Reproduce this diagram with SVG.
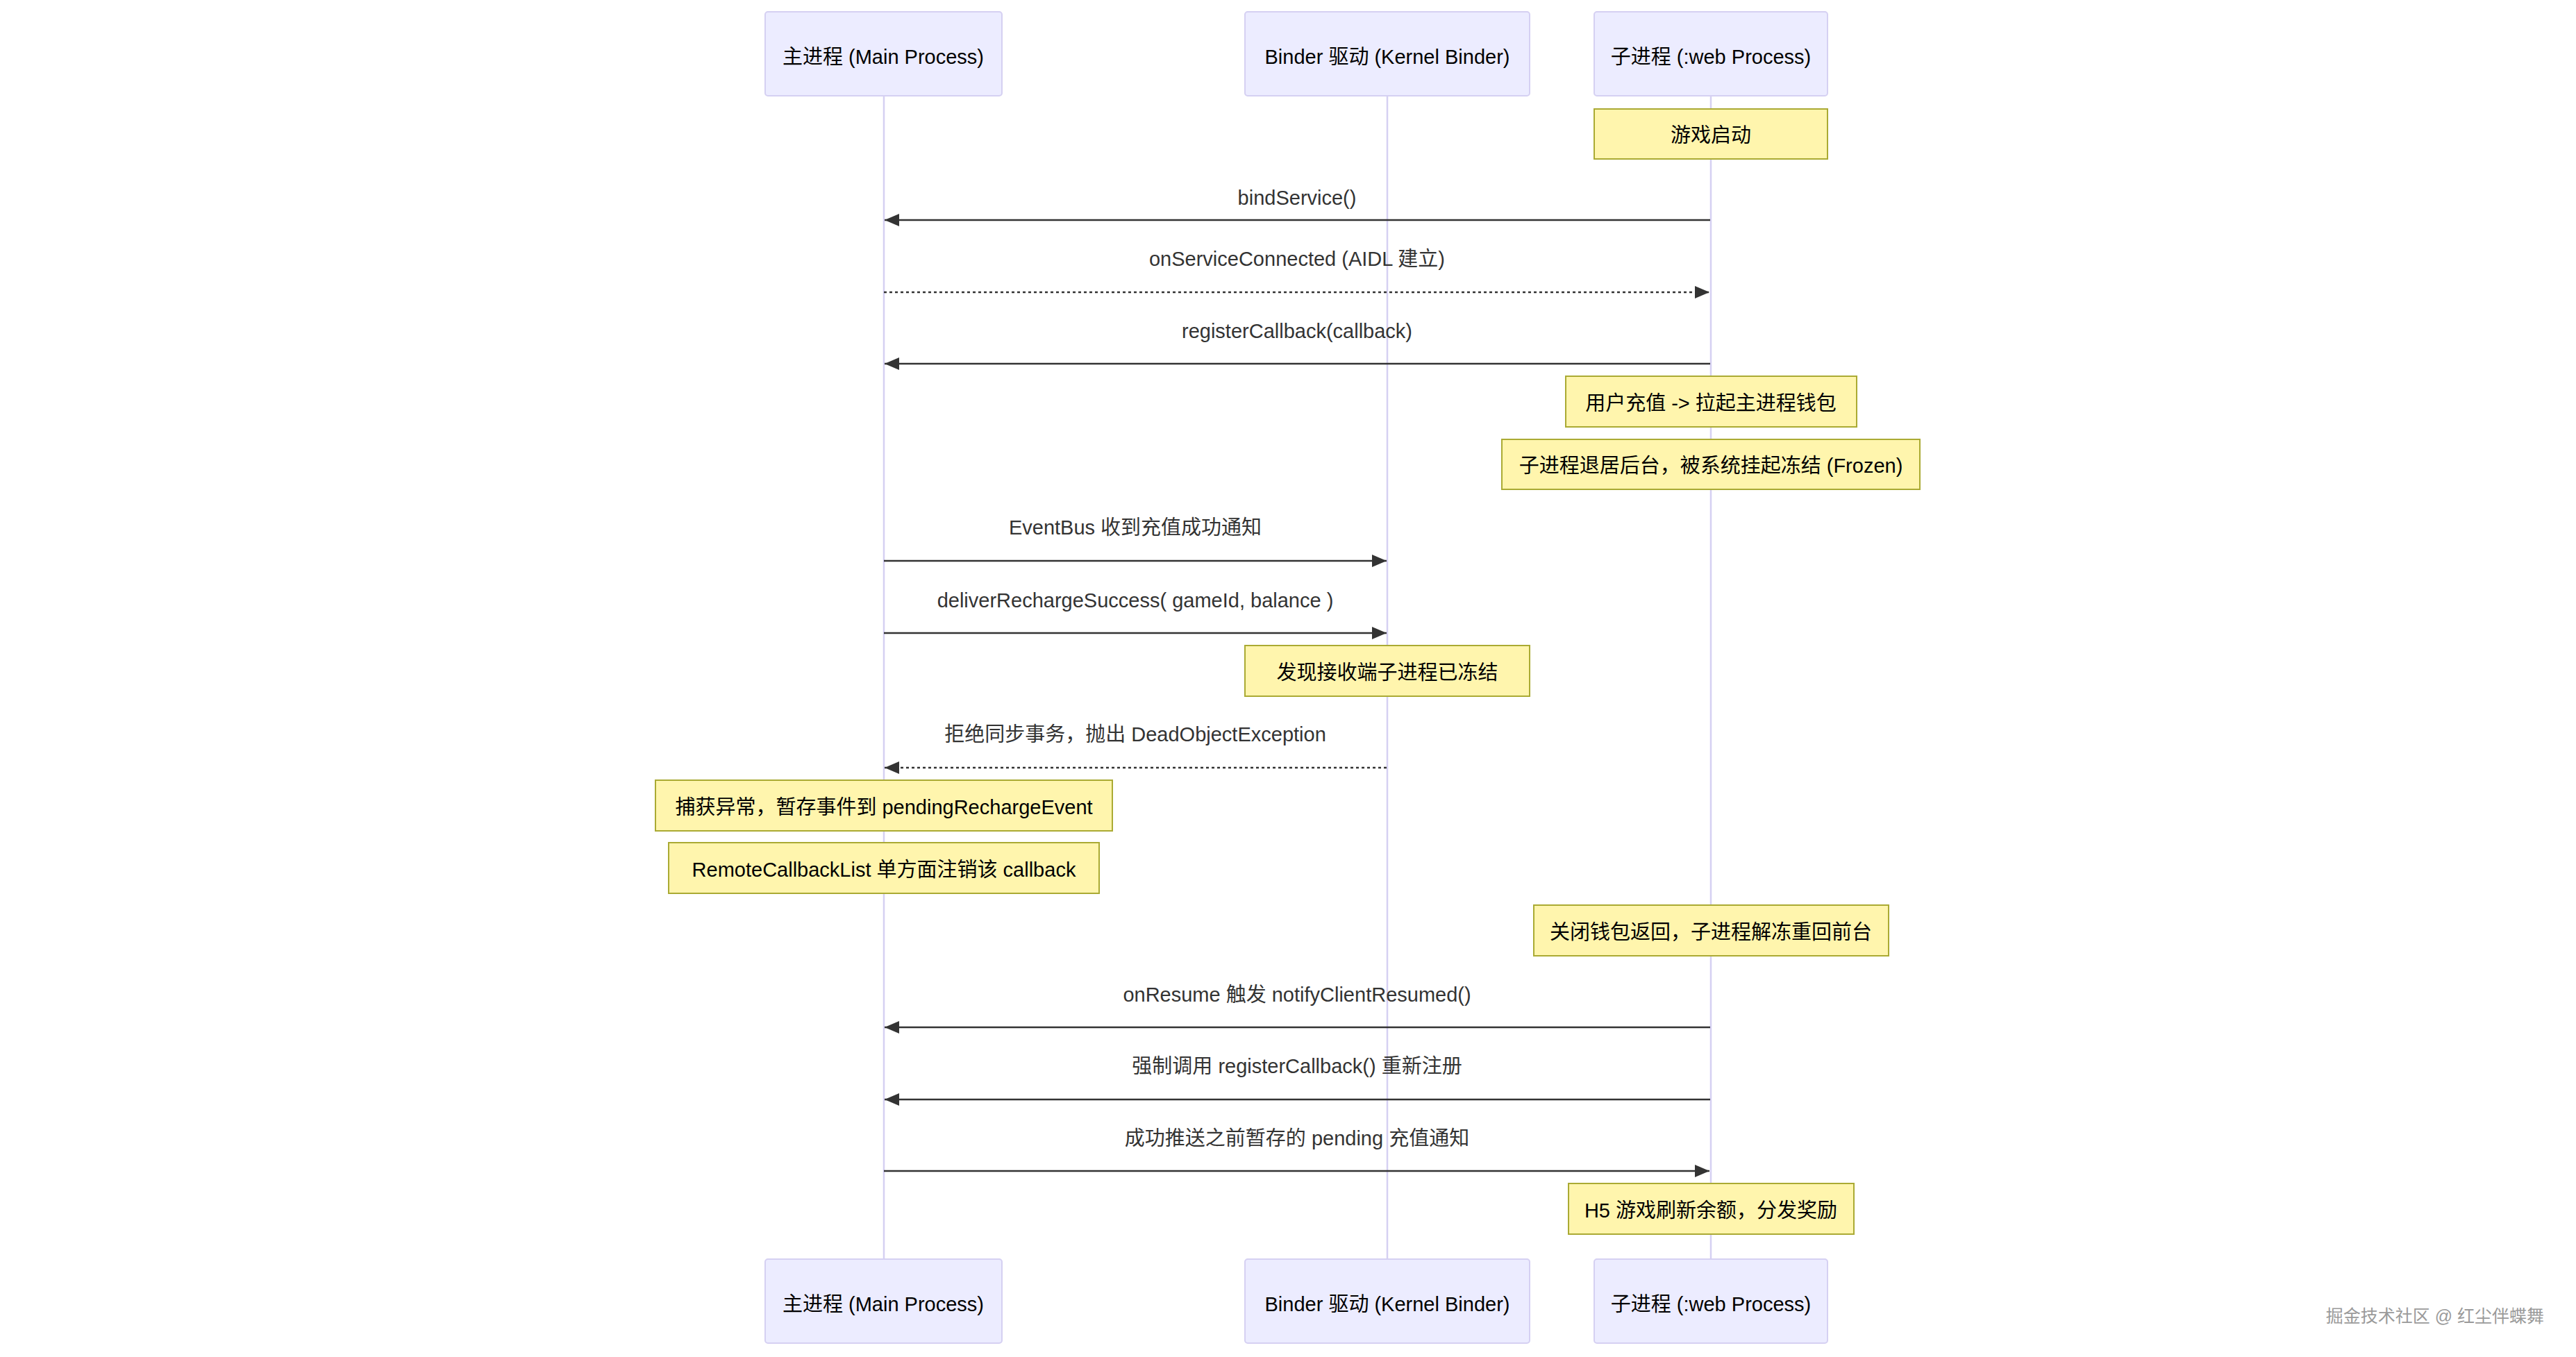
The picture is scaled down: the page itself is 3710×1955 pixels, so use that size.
<svg xmlns="http://www.w3.org/2000/svg" width="3710" height="1955" viewBox="0 0 3710 1955">
<style>
text{font-family:"Liberation Sans","Noto Sans CJK SC",sans-serif;font-size:29px;text-anchor:middle}
.actor rect{fill:#ECECFF;stroke:#D5D0F2;stroke-width:2}
.actor text{fill:#000}
.life{stroke:#D5D0F2;stroke-width:2.5}
.note rect{fill:#FFF5AD;stroke:#AAAA33;stroke-width:2}
.note text{fill:#000}
.msg{stroke:#333;stroke-width:2.5;fill:none}
.dot{stroke-dasharray:4 4}
.mtxt{fill:#333}
.wm{font-size:25px;fill:#9a9a9a;text-anchor:end}
</style>
<defs>
<marker id="ah" markerUnits="userSpaceOnUse" markerWidth="22" markerHeight="18" refX="21" refY="9" orient="auto">
<path d="M0,0 L21,9 L0,18 z" fill="#333"/>
</marker>
</defs>
<rect width="3710" height="1955" fill="#fff"/>
<g id="lifelines">
<line class="life" x1="1273" y1="138" x2="1273" y2="1814"/>
<line class="life" x1="1998" y1="138" x2="1998" y2="1814"/>
<line class="life" x1="2464" y1="138" x2="2464" y2="1814"/>
</g>
<g id="actor-main-top" class="actor"><rect x="1102" y="17" width="341" height="121" rx="4"/><text x="1272" y="92">主进程 (Main Process)</text></g>
<g id="actor-binder-top" class="actor"><rect x="1793" y="17" width="410" height="121" rx="4"/><text x="1998" y="92">Binder 驱动 (Kernel Binder)</text></g>
<g id="actor-web-top" class="actor"><rect x="2296" y="17" width="336" height="121" rx="4"/><text x="2464" y="92">子进程 (:web Process)</text></g>
<g id="actor-main-bottom" class="actor"><rect x="1102" y="1814" width="341" height="121" rx="4"/><text x="1272" y="1889">主进程 (Main Process)</text></g>
<g id="actor-binder-bottom" class="actor"><rect x="1793" y="1814" width="410" height="121" rx="4"/><text x="1998" y="1889">Binder 驱动 (Kernel Binder)</text></g>
<g id="actor-web-bottom" class="actor"><rect x="2296" y="1814" width="336" height="121" rx="4"/><text x="2464" y="1889">子进程 (:web Process)</text></g>
<g id="note1" class="note"><rect x="2296" y="157" width="336" height="72"/><text x="2464" y="205">游戏启动</text></g>
<g id="note2" class="note"><rect x="2255" y="542" width="419" height="73"/><text x="2464" y="591">用户充值 -&gt; 拉起主进程钱包</text></g>
<g id="note3" class="note"><rect x="2163" y="633" width="602" height="72"/><text x="2464" y="681">子进程退居后台，被系统挂起冻结 (Frozen)</text></g>
<g id="note4" class="note"><rect x="1793" y="930" width="410" height="73"/><text x="1998" y="979">发现接收端子进程已冻结</text></g>
<g id="note5" class="note"><rect x="944" y="1124" width="658" height="73"/><text x="1273" y="1173">捕获异常，暂存事件到 pendingRechargeEvent</text></g>
<g id="note6" class="note"><rect x="963" y="1214" width="620" height="73"/><text x="1273" y="1263">RemoteCallbackList 单方面注销该 callback</text></g>
<g id="note7" class="note"><rect x="2209" y="1304" width="511" height="73"/><text x="2464" y="1353">关闭钱包返回，子进程解冻重回前台</text></g>
<g id="note8" class="note"><rect x="2259" y="1705" width="411" height="73"/><text x="2464" y="1754">H5 游戏刷新余额，分发奖励</text></g>
<g id="connectors">
<line class="msg" x1="2463" y1="317" x2="1274" y2="317" marker-end="url(#ah)"/>
<text class="mtxt" x="1868" y="295">bindService()</text>
<line class="msg dot" x1="1273" y1="421" x2="2462" y2="421" marker-end="url(#ah)"/>
<text class="mtxt" x="1868" y="383">onServiceConnected (AIDL 建立)</text>
<line class="msg" x1="2463" y1="524" x2="1274" y2="524" marker-end="url(#ah)"/>
<text class="mtxt" x="1868" y="487">registerCallback(callback)</text>
<line class="msg" x1="1273" y1="808" x2="1997" y2="808" marker-end="url(#ah)"/>
<text class="mtxt" x="1635" y="770">EventBus 收到充值成功通知</text>
<line class="msg" x1="1273" y1="912" x2="1997" y2="912" marker-end="url(#ah)"/>
<text class="mtxt" x="1635" y="875">deliverRechargeSuccess( gameId, balance )</text>
<line class="msg dot" x1="1997" y1="1106" x2="1274" y2="1106" marker-end="url(#ah)"/>
<text class="mtxt" x="1635" y="1068">拒绝同步事务，抛出 DeadObjectException</text>
<line class="msg" x1="2463" y1="1480" x2="1274" y2="1480" marker-end="url(#ah)"/>
<text class="mtxt" x="1868" y="1443">onResume 触发 notifyClientResumed()</text>
<line class="msg" x1="2463" y1="1584" x2="1274" y2="1584" marker-end="url(#ah)"/>
<text class="mtxt" x="1868" y="1546">强制调用 registerCallback() 重新注册</text>
<line class="msg" x1="1273" y1="1687" x2="2462" y2="1687" marker-end="url(#ah)"/>
<text class="mtxt" x="1868" y="1650">成功推送之前暂存的 pending 充值通知</text>
</g>
<text class="wm" x="3664" y="1905">掘金技术社区 @ 红尘伴蝶舞</text>
</svg>
